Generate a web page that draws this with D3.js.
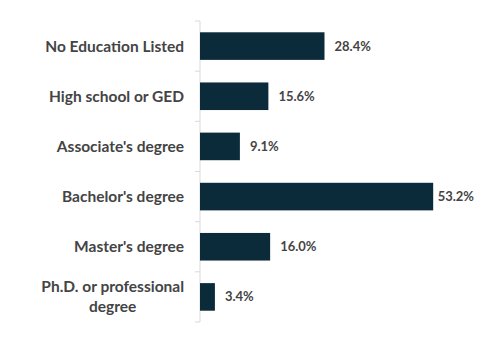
<!DOCTYPE html>
<html>
<head>
<meta charset="utf-8">
<script src="https://cdn.jsdelivr.net/npm/d3@7"></script>
<style>
  body { margin: 0; background: #fff; }
  svg text { font-family: Lato, "Liberation Sans", sans-serif; font-weight: bold; fill: #444; }
</style>
</head>
<body>
<div id="chart"></div>
<script>
let categories = ["No Education Listed", "High school or GED", "Associate's degree",
                  "Bachelor's degree", "Master's degree", "Ph.D. or professional degree"];
let values = [28.4, 15.6, 9.1, 53.2, 16.0, 3.4];
// how the long label breaks onto two lines
let labelLines = [["No Education Listed"], ["High school or GED"], ["Associate's degree"],
                  ["Bachelor's degree"], ["Master's degree"], ["Ph.D. or professional", "degree"]];

let width = 480, height = 340;

let svg = d3.select("#chart")
            .append("svg")
            .attr("width", width)
            .attr("height", height);

let y = d3.scaleBand()
          .domain(categories)
          .range([21, 322])
          .paddingInner(0.45)
          .paddingOuter(0.225);

let x = d3.scaleLinear()
          .domain([0, 60])
          .range([200, 463]);

// axis line with ticks between the bands
let gap = (y.step() - y.bandwidth()) / 2;
let bounds = categories.map(c => y(c) - gap).concat([y.range()[1]]);
svg.append("line")
   .attr("x1", x(0)).attr("x2", x(0))
   .attr("y1", y.range()[0]).attr("y2", y.range()[1])
   .style("stroke", "#d9d9d9");
svg.selectAll(".tick")
   .data(bounds)
   .enter().append("line")
   .attr("x1", x(0) - 5).attr("x2", x(0))
   .attr("y1", d => d).attr("y2", d => d)
   .style("stroke", "#d9d9d9");

svg.selectAll(".bar")
   .data(categories)
   .enter().append("rect")
   .attr("x", x(0))
   .attr("y", d => y(d))
   .attr("width", (d, i) => x(values[i]) - x(0))
   .attr("height", y.bandwidth())
   .style("fill", "#0b2a3a");

// category labels, right aligned, multi-line ones centred in their block
let labelRight = 184;
categories.forEach((c, i) => {
    let lines = labelLines[i];
    let cy = y(c) + y.bandwidth() / 2;
    let g = svg.append("g");
    let texts = lines.map((t, j) => g.append("text")
        .attr("y", cy + (j - (lines.length - 1) / 2) * 20)
        .attr("dy", "0.35em")
        .style("font-size", "15.5px")
        .text(t));
    if (lines.length === 1) {
        texts[0].attr("x", labelRight).attr("text-anchor", "end");
    } else {
        let w = d3.max(texts, t => t.node().getComputedTextLength());
        texts.forEach(t => t.attr("x", labelRight - w / 2).attr("text-anchor", "middle"));
    }
});

// value labels at the bar ends
svg.selectAll(".val")
   .data(categories)
   .enter().append("text")
   .attr("y", d => y(d) + y.bandwidth() / 2)
   .attr("dy", "0.35em")
   .style("font-size", "13px")
   .text((d, i) => values[i].toFixed(1) + "%")
   .attr("x", function(d, i) {
       let w = this.getComputedTextLength();
       return Math.min(x(values[i]) + 10, 474 - w);
   });
</script>
</body>
</html>
